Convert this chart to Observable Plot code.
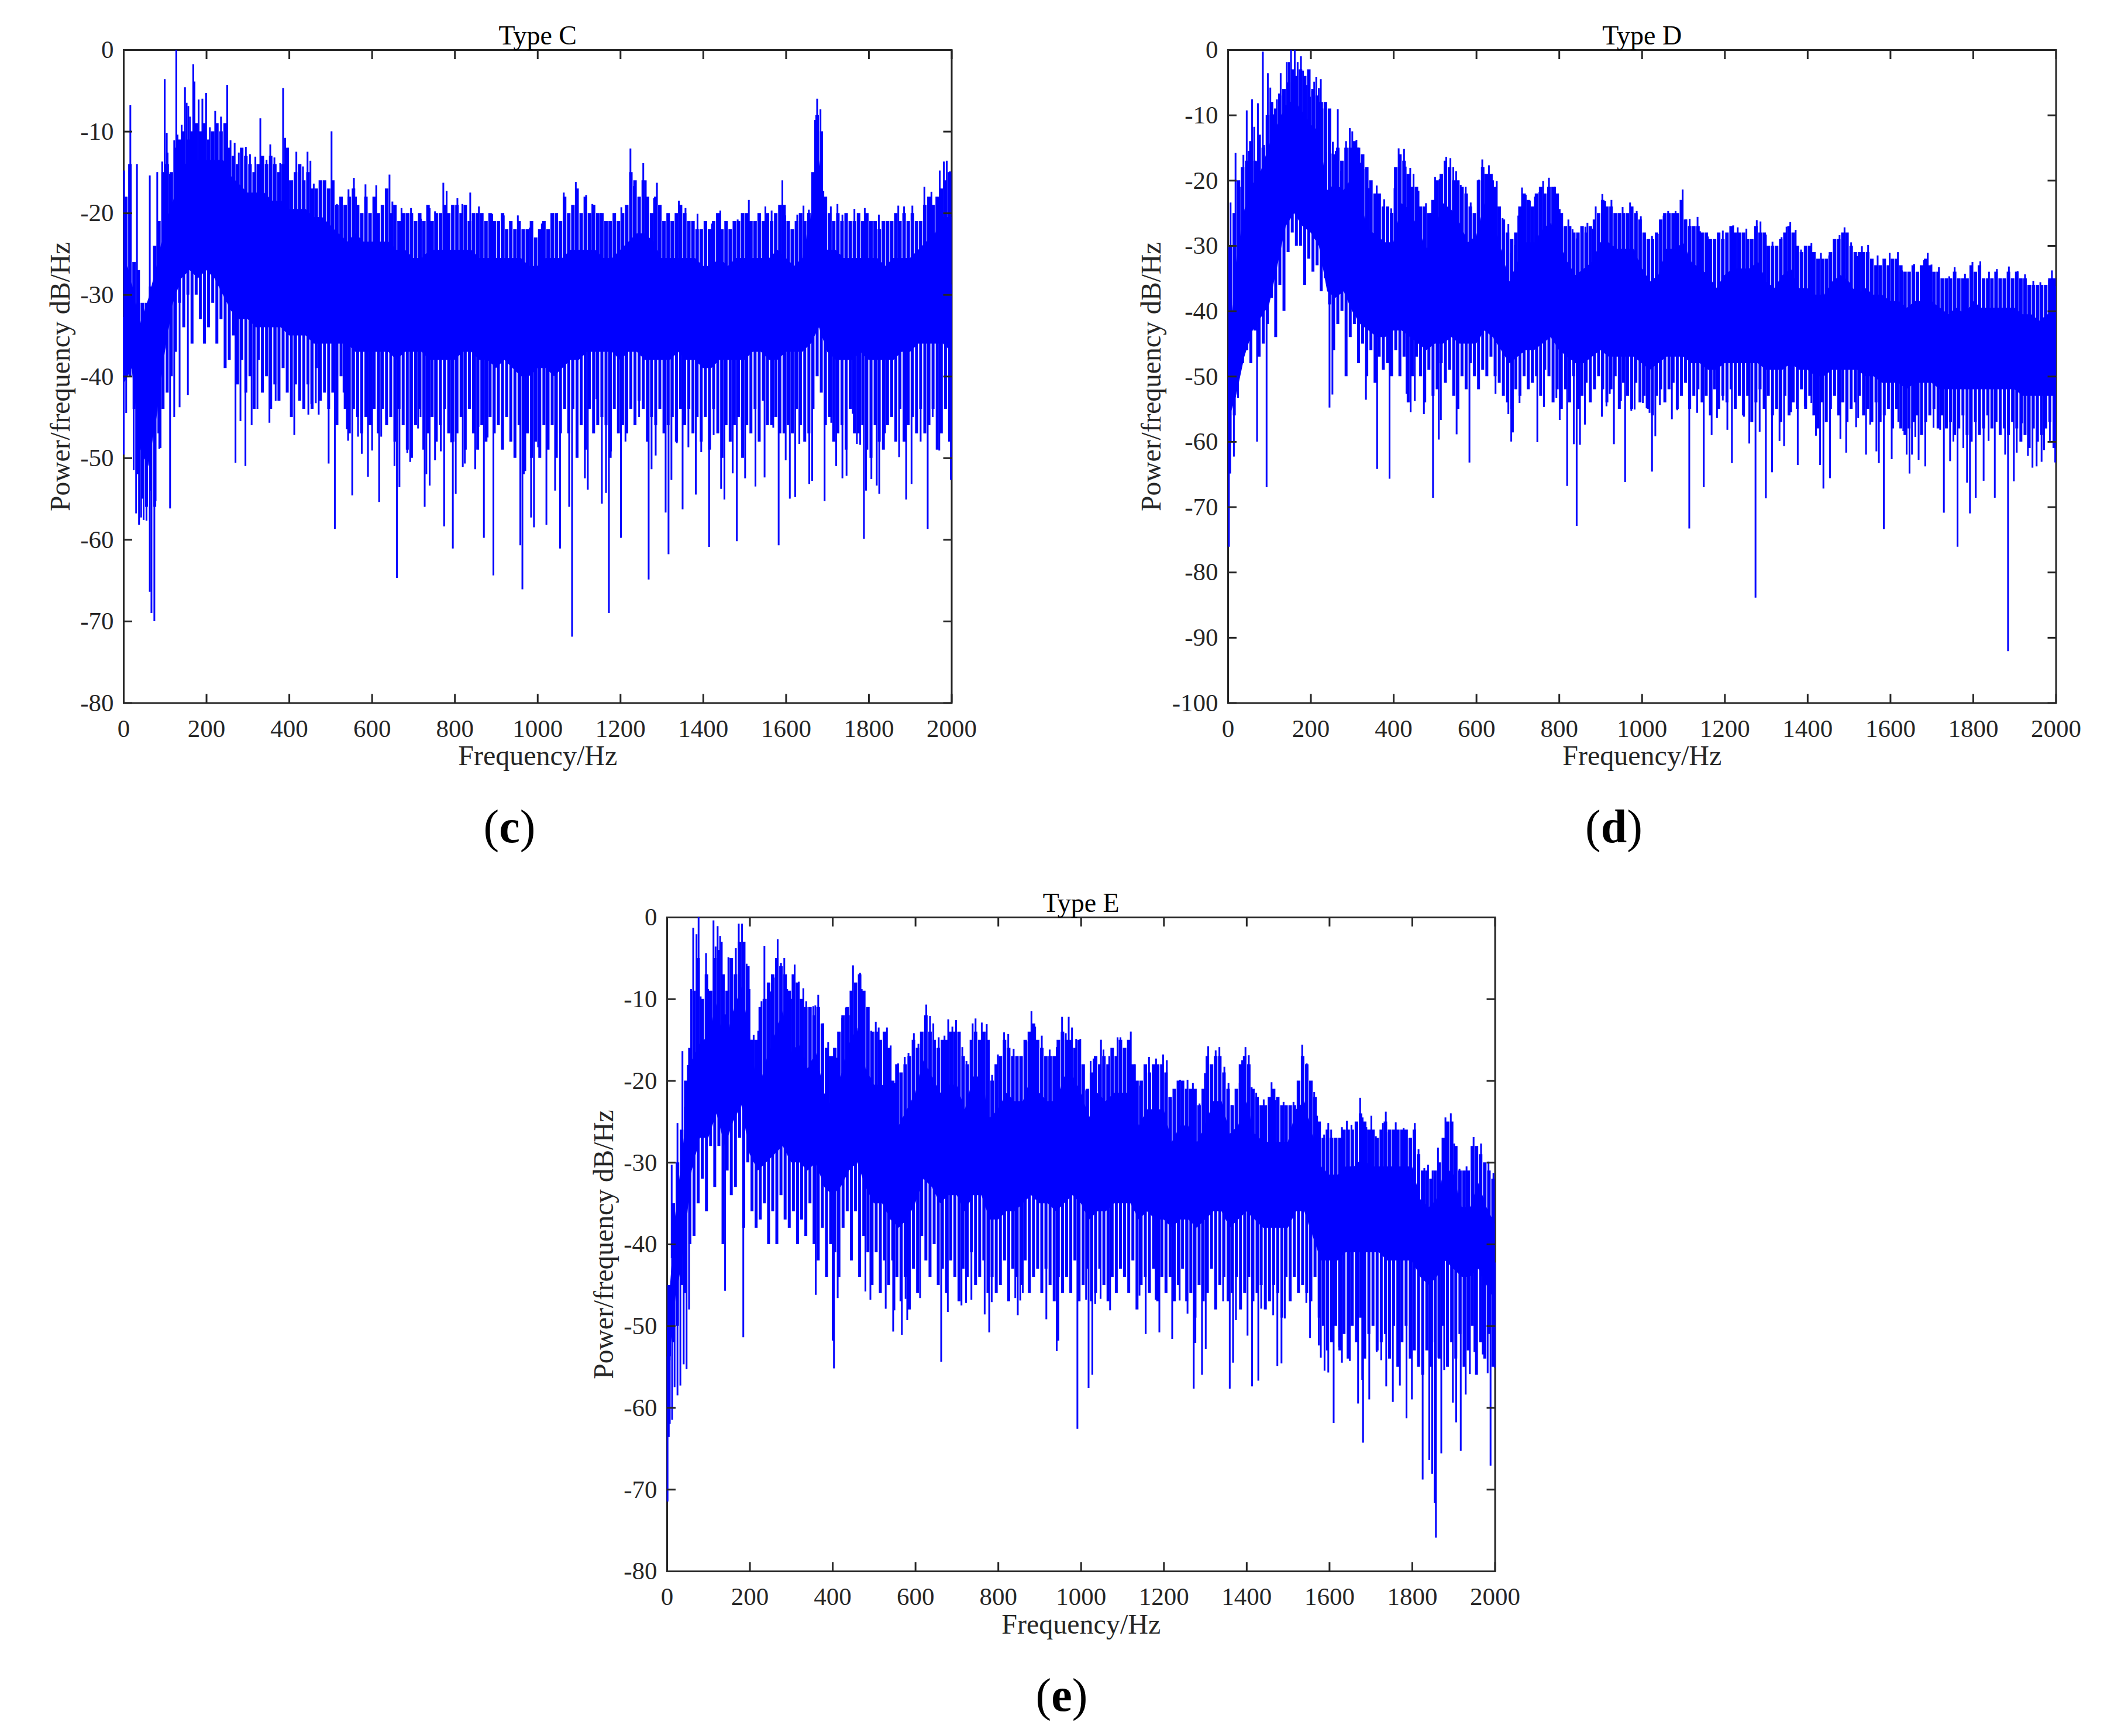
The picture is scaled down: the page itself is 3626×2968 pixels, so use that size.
<!DOCTYPE html>
<html><head><meta charset="utf-8">
<script src="https://cdn.jsdelivr.net/npm/d3@7"></script>
<script src="https://cdn.jsdelivr.net/npm/@observablehq/plot@0.6"></script>
<style>
html,body{margin:0;padding:0;background:#fff}
#page{position:relative;width:3626px;height:2968px;overflow:hidden;background:#fff}
#page svg{position:absolute}
.cap{position:absolute;width:300px;text-align:center;font:80px/1 "Liberation Serif",serif;color:#000}
</style></head><body><div id="page"></div>
<script>
const xTicks=[0,200,400,600,800,1000,1200,1400,1600,1800,2000];
const yTicks80=[0,-10,-20,-30,-40,-50,-60,-70,-80];
const yTicks100=[0,-10,-20,-30,-40,-50,-60,-70,-80,-90,-100];
const coreFreq=d3.range(0,2001,20);
const combFreq=d3.range(5,2000,10);

const cTop=[-22,-26,-31,-28,-24,-19,-16,-12,-11,-11,-11,-11,-11,-13,-14,-15,-15,-15,-16,-16,-17,-17,-17,-18,-18,-19,-20,-21,-20,-21,-21,-21,-21,-22,-22,-23,-23,-22,-22,-22,-22,-22,-22,-23,-23,-23,-23,-23,-23,-24,-24,-23,-23,-23,-22,-22,-22,-22,-23,-23,-22,-21,-20,-20,-21,-23,-23,-23,-23,-23,-24,-24,-23,-24,-23,-23,-23,-23,-23,-22,-23,-24,-23,-18,-11,-22,-22,-23,-23,-23,-23,-23,-24,-23,-23,-23,-22,-21,-20,-18,-18];
const cBot=[-44,-42,-52,-54,-48,-40,-34,-31,-30,-31,-30,-31,-33,-35,-36,-36,-37,-37,-37,-37,-38,-38,-38,-39,-39,-39,-39,-39,-40,-40,-40,-40,-40,-41,-40,-40,-40,-41,-41,-41,-41,-40,-40,-41,-41,-42,-41,-42,-43,-43,-42,-42,-43,-42,-41,-41,-40,-40,-40,-40,-41,-40,-40,-41,-41,-41,-41,-40,-41,-41,-42,-42,-41,-41,-41,-41,-40,-40,-41,-41,-40,-40,-40,-39,-37,-40,-41,-41,-41,-40,-41,-41,-41,-41,-40,-40,-39,-39,-39,-39,-40];
const cCombTop=[-18,-14,-26,-27,-31,-31,-29,-24,-21,-15,
-14,-15,-12,-11,-10,-11,-10,-9,-10,-9,
-11,-10,-9,-10,-9,-12,-13,-14,-12,-13,
-14,-15,-14,-13,-14,-13,-14,-15,-14,-12,
-16,-15,-14,-16,-15,-17,-17,-16,-16,-17,
-16,-19,-18,-19,-18,-17,-19,-20,-18,-20,
-18,-20,-19,-17,-20,-19,-21,-20,-20,-20,
-21,-20,-21,-19,-21,-20,-20,-19,-20,-19,
-19,-20,-19,-21,-20,-20,-20,-21,-20,-21,
-21,-20,-22,-21,-22,-21,-22,-22,-21,-23,
-22,-21,-22,-20,-20,-21,-18,-20,-19,-17,
-20,-18,-20,-19,-20,-20,-21,-21,-20,-21,
-20,-19,-15,-16,-18,-16,-18,-20,-18,-19,
-21,-20,-21,-20,-19,-20,-21,-21,-22,-22,
-21,-22,-21,-20,-22,-21,-22,-21,-21,-20,
-20,-21,-21,-20,-21,-20,-21,-20,-19,-19,
-21,-22,-21,-20,-21,-20,-15,-8,-10,-18,
-20,-21,-20,-21,-20,-21,-21,-20,-21,-20,
-21,-21,-22,-21,-21,-21,-20,-21,-20,-21,
-20,-21,-21,-19,-18,-19,-18,-17,-16,-15];
const cCombBot=[-36,-40,-44,-52,-55,-56,-54,-56,-47,-44,
-42,-40,-37,-31,-34,-30,-36,-30,-33,-36,
-34,-31,-36,-33,-39,-38,-35,-41,-38,-42,
-40,-44,-38,-42,-40,-44,-41,-43,-39,-42,
-45,-41,-43,-44,-41,-44,-39,-43,-42,-44,
-42,-46,-40,-44,-47,-44,-45,-47,-45,-46,
-44,-47,-44,-46,-45,-48,-44,-46,-49,-50,
-46,-44,-49,-47,-45,-48,-46,-44,-47,-48,
-47,-45,-49,-44,-47,-49,-46,-48,-45,-47,
-46,-49,-45,-48,-50,-46,-52,-47,-50,-48,
-50,-46,-49,-46,-50,-47,-44,-47,-44,-50,
-46,-49,-44,-47,-46,-45,-46,-50,-44,-47,
-46,-47,-44,-46,-43,-44,-48,-45,-46,-44,
-47,-46,-45,-48,-44,-46,-44,-47,-45,-48,
-45,-49,-44,-47,-50,-46,-48,-46,-45,-50,
-46,-47,-44,-48,-43,-46,-46,-45,-47,-47,
-46,-47,-44,-46,-48,-47,-44,-40,-42,-46,
-45,-48,-47,-46,-49,-44,-47,-47,-46,-49,
-50,-46,-48,-49,-46,-45,-48,-44,-48,-46,
-45,-47,-44,-47,-46,-44,-49,-47,-44,-48];
const cUp=[[1,-14.8],[16,-6.8],[32,-14],[63,-15.4],[81,-15],[93,-13.7],[99,-3.6],[104,-10.2],[106,-12.6],[111,-15.2],[122,-11.1],[127,0],[130,-10.4],[140,-9.2],[148,-4.6],[152,-6.5],[156,-6.9],[160,-8.2],[168,-1.8],[171,-3.9],[181,-6.1],[190,-6],[199,-5.3],[208,-9.5],[221,-7.5],[235,-8.2],[250,-4.3],[258,-11.1],[268,-11.4],[278,-12.6],[295,-11.9],[305,-12.8],[318,-13.1],[330,-8.4],[345,-13.5],[354,-11.6],[364,-13.2],[378,-13.9],[385,-4.7],[390,-10.8],[399,-16],[417,-12.5],[433,-14.3],[444,-12.5],[451,-13.6],[459,-16.4],[474,-16.1],[502,-10],[515,-18.9],[526,-18.4],[543,-17.1],[556,-15.7],[561,-18],[584,-16.5],[610,-16.6],[642,-15.3],[649,-18.6],[671,-19.4],[694,-19.4],[718,-20.7],[739,-19.4],[752,-19.8],[772,-16.3],[780,-17.3],[806,-18.2],[818,-18.9],[837,-17.5],[858,-19.2],[890,-20.1],[918,-20.3],[952,-20.3],[981,-21.8],[1010,-21.3],[1035,-20.2],[1063,-17.5],[1092,-16.2],[1117,-17.8],[1132,-18.9],[1152,-20],[1176,-21],[1202,-19.3],[1224,-12.1],[1232,-16.7],[1255,-13.9],[1261,-16],[1281,-18.2],[1288,-16.3],[1341,-18.5],[1357,-19.4],[1386,-20.1],[1421,-21.3],[1441,-19.7],[1483,-20.8],[1510,-18.4],[1550,-19.2],[1565,-19.7],[1591,-16],[1598,-20.3],[1627,-20.2],[1642,-19.1],[1655,-19.6],[1670,-8.6],[1675,-6],[1683,-7.3],[1690,-17.3],[1708,-19.2],[1724,-18.9],[1736,-20.2],[1765,-19.5],[1790,-19.4],[1824,-20.2],[1871,-19.1],[1885,-19.2],[1905,-19.1],[1934,-16.8],[1951,-17.4],[1971,-14.8],[1981,-13.7],[1988,-13.6],[1996,-14.9]];
const cDown=[[0,-49.6],[6,-44.5],[24,-51.5],[30,-56.8],[37,-58.2],[42,-57.3],[48,-57.6],[55,-57.7],[63,-66.4],[67,-69],[74,-70],[77,-55.3],[86,-48.9],[89,-48.8],[112,-56.2],[122,-45],[135,-43.8],[155,-42.3],[270,-50.6],[282,-45.5],[294,-51],[309,-46],[323,-44],[352,-45.7],[367,-43],[412,-47.2],[446,-44.7],[453,-43.4],[464,-43.3],[471,-44.7],[495,-50.7],[510,-58.7],[531,-42],[539,-46.5],[542,-47.9],[552,-54.6],[566,-47.4],[575,-49.5],[590,-52.3],[600,-49.1],[617,-55.4],[622,-47.4],[634,-45.3],[654,-51],[660,-64.7],[666,-53.6],[685,-49.4],[692,-50.5],[711,-46.4],[717,-45],[727,-56],[731,-52],[739,-53.4],[752,-50.3],[766,-49.2],[774,-58.4],[791,-48.1],[795,-61.1],[802,-54.4],[819,-51.1],[824,-50.7],[849,-51.4],[857,-46.2],[870,-59.8],[879,-47.5],[893,-64.4],[914,-48],[945,-48.8],[958,-60.7],[963,-66.1],[970,-51.6],[984,-57.3],[991,-58.5],[1001,-48.7],[1021,-58.2],[1042,-54],[1054,-61.1],[1076,-56],[1083,-71.9],[1114,-52.5],[1121,-53.9],[1142,-42.8],[1155,-55.6],[1165,-54.3],[1172,-69],[1177,-49.2],[1201,-59.8],[1212,-48],[1245,-45],[1268,-64.9],[1275,-51.4],[1285,-49.7],[1309,-56.7],[1316,-61.8],[1323,-52.7],[1336,-48.2],[1350,-56.3],[1364,-48.7],[1382,-54.5],[1395,-49.3],[1414,-60.9],[1425,-47.2],[1443,-53.8],[1451,-55.1],[1471,-51.9],[1481,-60.2],[1493,-46.6],[1501,-52.5],[1526,-53.5],[1548,-52.4],[1569,-46.3],[1582,-60.7],[1599,-50.3],[1609,-55],[1622,-54.8],[1632,-48.3],[1656,-53.2],[1663,-52.8],[1693,-55.3],[1709,-45.7],[1721,-51],[1736,-52.5],[1746,-52.2],[1761,-44.6],[1771,-48.3],[1779,-48.4],[1788,-59.9],[1793,-54],[1806,-52.6],[1819,-53.4],[1825,-54.4],[1839,-47],[1873,-49.9],[1890,-55.1],[1903,-53.2],[1925,-48],[1942,-58.7],[1954,-45],[1970,-49.1],[1998,-52.7]];

const dTop=[-45,-30,-22,-18,-16,-12,-9,-6,-5,-7,-9,-10,-19,-18,-19,-17,-21,-25,-26,-27,-27,-21,-22,-25,-28,-25,-21,-22,-24,-27,-26,-21,-23,-28,-33,-30,-27,-27,-25,-24,-27,-30,-32,-31,-30,-27,-27,-28,-28,-28,-31,-33,-32,-28,-28,-27,-30,-31,-32,-34,-32,-31,-31,-31,-30,-33,-34,-32,-31,-34,-34,-35,-35,-33,-32,-33,-35,-34,-35,-35,-36,-36,-37,-36,-36,-36,-37,-38,-37,-38,-36,-37,-37,-37,-37,-37,-38,-38,-39,-38,-38];
const dBot=[-60,-56,-50,-46,-44,-42,-36,-30,-28,-30,-31,-33,-40,-41,-40,-43,-45,-46,-47,-47,-46,-46,-47,-48,-49,-48,-48,-47,-48,-48,-48,-46,-47,-49,-51,-50,-49,-49,-48,-47,-49,-50,-51,-51,-50,-49,-50,-50,-50,-50,-51,-52,-51,-50,-50,-50,-51,-51,-52,-52,-51,-51,-51,-51,-51,-52,-52,-52,-51,-52,-52,-53,-53,-52,-52,-52,-52,-53,-53,-54,-54,-54,-55,-54,-54,-54,-55,-55,-55,-55,-55,-55,-55,-55,-55,-55,-56,-56,-56,-56,-56];
const dCombTop=[-30,-25,-20,-18,-17,-14,-17,-13,-15,-10,
-8,-9,-7,-6,-5,-3,-4,-3,-4,-3,
-6,-7,-8,-8,-9,-16,-15,-17,-15,-15,
-14,-15,-16,-18,-20,-22,-22,-24,-24,-25,
-18,-16,-17,-19,-21,-21,-24,-24,-25,-23,
-20,-19,-17,-18,-20,-20,-21,-22,-24,-25,
-20,-18,-19,-19,-21,-24,-26,-28,-29,-28,
-24,-22,-23,-24,-22,-21,-22,-21,-21,-22,
-25,-27,-27,-28,-28,-27,-28,-27,-26,-25,
-23,-24,-24,-25,-25,-25,-25,-24,-25,-26,
-28,-29,-29,-28,-26,-25,-25,-25,-25,-23,
-26,-27,-27,-27,-28,-28,-29,-29,-28,-29,
-28,-27,-28,-28,-28,-29,-29,-27,-28,-28,
-30,-30,-30,-29,-28,-27,-28,-30,-31,-30,
-30,-31,-32,-32,-32,-31,-29,-29,-28,-28,
-30,-31,-31,-31,-31,-32,-33,-33,-32,-33,
-32,-32,-33,-34,-34,-33,-34,-33,-32,-33,
-34,-34,-35,-35,-35,-34,-35,-35,-35,-33,
-34,-33,-35,-35,-35,-34,-35,-35,-34,-35,
-34,-35,-35,-36,-36,-36,-36,-36,-35,-35];
const dCombBot=[-60,-56,-50,-48,-46,-48,-43,-47,-45,-42,
-38,-44,-36,-40,-31,-28,-30,-30,-36,-32,
-34,-33,-37,-35,-39,-46,-42,-40,-50,-44,
-42,-48,-45,-50,-46,-51,-47,-49,-48,-50,
-46,-50,-47,-54,-50,-47,-50,-54,-49,-53,
-52,-48,-51,-49,-53,-55,-50,-52,-48,-50,
-52,-49,-50,-47,-50,-51,-53,-54,-55,-52,
-53,-50,-52,-51,-50,-53,-49,-50,-54,-52,
-55,-52,-54,-50,-55,-53,-51,-54,-52,-50,
-52,-54,-52,-50,-55,-51,-53,-55,-51,-54,
-53,-55,-56,-53,-52,-54,-52,-51,-55,-53,
-51,-55,-53,-52,-54,-53,-56,-52,-55,-53,
-54,-52,-55,-53,-56,-53,-57,-54,-52,-55,
-53,-56,-55,-57,-53,-56,-54,-55,-52,-55,
-53,-56,-58,-54,-57,-55,-53,-56,-54,-57,
-55,-54,-53,-56,-55,-57,-54,-57,-56,-55,
-58,-55,-58,-59,-58,-57,-56,-59,-57,-56,
-55,-58,-56,-58,-57,-59,-58,-56,-59,-60,
-57,-59,-58,-56,-58,-57,-59,-58,-59,-57,
-58,-60,-59,-61,-58,-60,-59,-58,-57,-61];
const dUp=[[6,-23.4],[18,-15.8],[28,-21],[37,-16.1],[45,-9.3],[50,-15.5],[58,-7.6],[63,-11.8],[68,-17.1],[72,-8.2],[76,-14.1],[84,-0.3],[87,-14.6],[91,-16.8],[96,-3.6],[102,-5.8],[109,-9.9],[118,-7.6],[123,-6.7],[127,-3.6],[135,-6],[142,-1.9],[147,-1.9],[152,0],[161,0],[168,-1.9],[176,-1],[181,-3.2],[189,-5.4],[198,-7.2],[203,-6.3],[208,-4.9],[213,-4.2],[219,-5.9],[224,-4.5],[228,-9],[237,-15.7],[248,-15.9],[253,-14.1],[260,-15.5],[265,-9.1],[273,-18.6],[285,-14],[294,-12],[300,-12.5],[310,-13.8],[314,-15],[320,-17.3],[327,-18.3],[339,-21.2],[346,-23.5],[359,-20.8],[364,-24.1],[377,-22.9],[384,-24.9],[394,-24.3],[402,-21.2],[412,-15.1],[425,-15.2],[429,-17.9],[440,-18.1],[448,-19],[460,-21.6],[478,-23.5],[489,-25],[500,-19.5],[511,-19.8],[527,-16.4],[537,-16.6],[544,-18],[551,-18.6],[562,-20.7],[574,-21],[586,-23.4],[595,-25.6],[606,-19.9],[614,-16.8],[621,-19],[630,-17.7],[640,-20],[649,-20.1],[663,-25.8],[677,-26.7],[683,-31.1],[693,-29.9],[701,-25.4],[710,-21.1],[719,-22.2],[729,-23.1],[741,-22.5],[752,-21.8],[761,-20.1],[775,-19.6],[790,-21],[801,-24.4],[813,-27.2],[822,-26],[832,-27.5],[842,-28.9],[863,-27.1],[868,-26.5],[881,-27.4],[888,-24],[904,-22.1],[911,-23.2],[926,-23],[953,-24.1],[971,-23.4],[987,-24.7],[997,-25.5],[1007,-28.3],[1024,-28.5],[1038,-28.2],[1052,-25.4],[1063,-24.7],[1081,-24.7],[1098,-21.4],[1106,-26],[1115,-25.9],[1134,-25.6],[1140,-27.8],[1159,-28.6],[1175,-29.6],[1195,-27.7],[1220,-26.9],[1231,-27.2],[1252,-27.4],[1277,-26.1],[1286,-26.3],[1299,-28.3],[1315,-29.4],[1337,-28.7],[1349,-27.1],[1358,-26.4],[1371,-27.6],[1384,-30.6],[1409,-29.6],[1432,-31.1],[1452,-31.5],[1466,-29.6],[1477,-28.4],[1489,-27.2],[1505,-29.5],[1520,-31.6],[1531,-30.1],[1546,-29.9],[1569,-31.5],[1598,-31.1],[1618,-31],[1628,-33.8],[1657,-32.8],[1681,-32.2],[1690,-31.1],[1699,-32.9],[1717,-33.3],[1742,-34.7],[1755,-33.3],[1780,-34.3],[1798,-32.5],[1817,-32.4],[1838,-34],[1857,-33.6],[1886,-33.2],[1907,-33.9],[1925,-34.4],[1945,-35.4],[1962,-35.6],[1983,-35.3],[1990,-33.8],[1998,-36.2]];
const dDown=[[2,-76.1],[5,-64.9],[14,-62.3],[24,-53.3],[70,-60],[93,-67],[245,-54.8],[252,-52.8],[333,-53.6],[360,-64.2],[390,-65.7],[431,-52.7],[441,-55.5],[451,-53.8],[473,-55.8],[495,-68.6],[509,-59.7],[514,-56.7],[552,-58.9],[583,-63.2],[646,-52.7],[677,-55.8],[684,-60],[688,-58.6],[704,-54.1],[747,-60.1],[763,-54.7],[793,-53.3],[801,-56.7],[819,-66.8],[835,-60.4],[842,-72.9],[850,-60.5],[862,-57.4],[903,-56.2],[914,-54.6],[922,-52.7],[932,-60.4],[949,-53.8],[959,-66.2],[974,-55.3],[982,-55.1],[1002,-54.1],[1011,-54.9],[1018,-55.6],[1024,-64.6],[1032,-59.2],[1043,-54.4],[1072,-56.6],[1085,-55.2],[1114,-73.3],[1133,-55.6],[1149,-67],[1168,-59],[1181,-56.4],[1195,-53.7],[1206,-58.2],[1217,-63.3],[1246,-56.2],[1259,-60.3],[1274,-83.9],[1284,-58.5],[1299,-68.7],[1314,-64.7],[1332,-59.9],[1343,-60.7],[1360,-55.5],[1376,-63.6],[1393,-54.6],[1409,-54.1],[1420,-59.1],[1430,-63.6],[1438,-67.2],[1454,-65.6],[1479,-59.6],[1493,-61.7],[1517,-57.8],[1522,-56.4],[1541,-62],[1551,-57.4],[1566,-61.5],[1572,-63.3],[1584,-73.4],[1603,-62.7],[1619,-57],[1631,-58.4],[1639,-62],[1646,-64.9],[1652,-62],[1660,-59.3],[1668,-62.8],[1684,-63.8],[1704,-57.9],[1720,-58.2],[1729,-70.9],[1744,-63],[1752,-60],[1762,-76.1],[1776,-61],[1785,-66.3],[1792,-71],[1806,-68.6],[1825,-66],[1837,-59.9],[1852,-68.6],[1877,-62],[1884,-92.1],[1898,-66.1],[1905,-61.7],[1918,-57.2],[1932,-62.2],[1943,-64],[1953,-63.8],[1965,-63.1],[1971,-61.3],[1985,-59.9],[1998,-63.2]];

const eTop=[-48,-34,-25,-15,-13,-12,-8,-13,-9,-6,-12,-19,-15,-12,-9,-14,-13,-16,-14,-19,-21,-17,-13,-11,-16,-18,-18,-19,-23,-21,-19,-15,-17,-19,-18,-18,-21,-17,-17,-22,-21,-19,-20,-20,-17,-19,-20,-20,-17,-17,-19,-22,-19,-20,-19,-19,-19,-23,-21,-21,-21,-25,-23,-23,-25,-23,-20,-20,-24,-23,-20,-24,-25,-25,-25,-25,-21,-20,-24,-28,-29,-29,-28,-28,-27,-28,-28,-28,-28,-28,-28,-32,-33,-32,-28,-29,-33,-33,-30,-33,-35];
const eBot=[-60,-50,-44,-34,-30,-30,-27,-31,-28,-26,-32,-34,-33,-32,-31,-33,-33,-34,-33,-36,-37,-36,-34,-33,-36,-38,-38,-40,-41,-40,-38,-35,-36,-38,-37,-37,-39,-37,-37,-40,-40,-39,-39,-38,-37,-38,-38,-39,-38,-37,-38,-40,-39,-39,-38,-38,-38,-40,-39,-40,-40,-41,-40,-40,-41,-40,-39,-39,-41,-40,-39,-40,-41,-41,-41,-41,-39,-39,-42,-45,-45,-45,-44,-44,-44,-44,-44,-45,-45,-45,-45,-47,-48,-47,-45,-46,-47,-47,-46,-48,-50];
const eCombTop=[-45,-35,-30,-26,-20,-16,-9,-5,-10,-7,
-9,-5,-4,-7,-9,-5,-7,-3,-3,-6,
-15,-15,-11,-10,-8,-7,-5,-6,-7,-9,
-7,-8,-10,-11,-11,-12,-11,-13,-16,-17,
-16,-14,-12,-11,-9,-8,-7,-9,-11,-14,
-14,-15,-14,-16,-20,-18,-19,-18,-17,-15,
-16,-14,-12,-14,-15,-16,-15,-15,-14,-14,
-14,-17,-18,-15,-14,-15,-14,-15,-20,-18,
-17,-15,-16,-17,-17,-17,-15,-14,-13,-15,
-16,-17,-17,-17,-15,-14,-15,-15,-16,-15,
-18,-21,-19,-17,-18,-17,-18,-16,-17,-15,
-16,-15,-18,-20,-20,-18,-19,-18,-18,-18,
-19,-22,-21,-20,-20,-21,-21,-21,-23,-21,
-17,-18,-17,-17,-19,-21,-23,-21,-18,-17,
-18,-21,-22,-23,-23,-22,-21,-22,-23,-23,
-23,-23,-20,-17,-18,-20,-22,-25,-27,-26,
-27,-27,-27,-26,-26,-26,-25,-24,-25,-26,
-26,-27,-26,-25,-26,-26,-26,-26,-26,-27,
-26,-29,-31,-31,-32,-31,-30,-27,-25,-25,
-28,-31,-31,-31,-28,-28,-29,-30,-31,-32];
const eCombBot=[-62,-52,-50,-45,-46,-40,-39,-35,-32,-36,
-28,-33,-28,-40,-31,-34,-33,-27,-38,-30,
-36,-38,-37,-35,-40,-36,-40,-34,-37,-38,
-36,-40,-37,-39,-35,-40,-42,-38,-44,-40,
-41,-44,-38,-36,-42,-36,-44,-39,-41,-45,
-41,-46,-42,-45,-42,-44,-47,-44,-48,-43,
-46,-39,-42,-44,-40,-45,-43,-46,-42,-44,
-47,-43,-44,-41,-45,-44,-42,-46,-44,-46,
-45,-42,-47,-43,-44,-45,-42,-46,-44,-43,
-46,-43,-45,-47,-44,-46,-44,-46,-42,-47,
-45,-43,-47,-46,-43,-45,-47,-44,-46,-43,
-44,-46,-42,-48,-45,-44,-46,-43,-47,-44,
-46,-44,-47,-45,-43,-47,-46,-49,-45,-47,
-46,-43,-48,-45,-44,-47,-46,-44,-48,-46,
-44,-47,-46,-45,-48,-47,-45,-46,-49,-44,
-47,-44,-46,-45,-46,-47,-44,-49,-50,-53,
-52,-50,-53,-51,-54,-50,-52,-49,-54,-51,
-50,-53,-52,-51,-54,-50,-55,-52,-50,-54,
-53,-55,-56,-53,-55,-52,-54,-50,-55,-52,
-54,-51,-55,-53,-50,-56,-52,-54,-51,-55];
const eUp=[[11,-30.3],[25,-25.2],[37,-16.4],[43,-23.2],[50,-18.1],[58,-8.8],[63,-1.3],[71,-2.1],[76,0],[81,-9.7],[94,-4.4],[99,-8.8],[112,-0.4],[117,-3.6],[122,-1.1],[128,-2.3],[132,-3],[140,-11.9],[148,-4.9],[156,-5],[166,-3.8],[173,-0.8],[176,-3.3],[181,-0.8],[192,-5.7],[199,-8.8],[209,-14.4],[220,-13.9],[228,-10.3],[235,-3.5],[242,-10],[251,-9.1],[258,-7.4],[267,-2.7],[275,-5.6],[283,-5],[290,-8.8],[301,-10],[308,-5.8],[318,-7.9],[329,-8.7],[336,-10.3],[346,-13.5],[353,-10.9],[358,-10.8],[365,-9.5],[377,-13],[389,-15.3],[400,-17],[410,-17.2],[423,-12.3],[432,-11.1],[439,-12],[449,-5.9],[466,-6.8],[470,-8.8],[483,-11.1],[493,-13.9],[504,-12.8],[511,-13.5],[531,-13.5],[540,-15.7],[551,-20.3],[558,-17.9],[574,-17.1],[583,-16.6],[596,-14.2],[607,-15.5],[626,-10.7],[635,-12.1],[643,-13],[656,-14.7],[670,-14.5],[679,-12.5],[689,-13.4],[698,-12.6],[713,-15.9],[723,-17.6],[738,-13],[745,-12.4],[760,-12.9],[772,-13.1],[785,-19.3],[799,-16.8],[814,-14.1],[824,-14.3],[837,-16.1],[868,-15.2],[880,-11.5],[889,-13.4],[905,-14.5],[924,-16.2],[941,-15.9],[954,-12.2],[963,-14.2],[970,-12.2],[978,-13.5],[988,-14.9],[998,-14.9],[1012,-21.2],[1023,-17.6],[1030,-17.3],[1048,-15],[1054,-16.2],[1068,-17],[1088,-14.7],[1095,-14.7],[1104,-16.1],[1120,-14],[1130,-18],[1142,-20.6],[1155,-19.5],[1164,-17.1],[1181,-17.3],[1198,-16.8],[1207,-17.5],[1217,-22.4],[1239,-19.9],[1257,-19.9],[1270,-20.3],[1286,-22.8],[1299,-19.1],[1307,-15.8],[1325,-16.3],[1334,-15.9],[1346,-18.3],[1356,-20.3],[1364,-23],[1383,-20.3],[1389,-17.5],[1397,-15.9],[1405,-16.9],[1412,-20.8],[1423,-21.5],[1441,-22.3],[1460,-20.2],[1469,-22.4],[1489,-22.6],[1513,-22.6],[1534,-15.6],[1545,-17.9],[1563,-21.4],[1570,-24.3],[1587,-26.6],[1597,-25.2],[1604,-26],[1630,-25.7],[1642,-24.9],[1653,-25.4],[1674,-22.1],[1680,-24.5],[1689,-25.7],[1701,-24.3],[1712,-26.8],[1729,-25.2],[1736,-23.8],[1743,-26.3],[1760,-25.1],[1779,-25.8],[1806,-25.2],[1815,-28.4],[1829,-30.7],[1838,-30.3],[1849,-31],[1862,-28.2],[1880,-24.5],[1893,-24],[1901,-27.7],[1914,-30.8],[1931,-30.5],[1948,-26.9],[1966,-27.7],[1974,-30.3],[1984,-29.9],[1996,-31.3]];
const eDown=[[1,-71.5],[4,-63.6],[6,-54.2],[12,-61.5],[18,-57.5],[25,-58.5],[32,-57.3],[40,-54.7],[47,-55.3],[53,-48],[140,-45.7],[184,-51.4],[359,-46.2],[400,-51.8],[403,-55.2],[412,-46.6],[479,-45.8],[491,-46.8],[528,-47.9],[546,-50.7],[549,-48.1],[567,-51.1],[576,-46.7],[580,-49.3],[611,-46.6],[662,-54.4],[678,-48.3],[711,-47.5],[722,-47.2],[735,-46.8],[767,-48.6],[778,-50.8],[784,-47.1],[841,-46.6],[847,-48.7],[853,-46.9],[859,-46],[916,-49.2],[941,-53.1],[945,-51.8],[991,-62.6],[1012,-46.8],[1018,-57.6],[1027,-56],[1034,-47.3],[1047,-46.7],[1070,-48.1],[1141,-46.3],[1156,-51],[1180,-46.8],[1189,-50.8],[1220,-51.6],[1238,-46.9],[1257,-48.5],[1272,-57.7],[1276,-52.1],[1292,-56],[1301,-52.8],[1343,-47],[1359,-57.7],[1367,-54.5],[1374,-49.3],[1402,-51.2],[1413,-57.4],[1428,-56.7],[1435,-47.9],[1454,-46.4],[1464,-48.7],[1474,-54.9],[1484,-54.6],[1492,-49.1],[1504,-46.7],[1544,-47.2],[1553,-51.5],[1574,-52.4],[1579,-53.9],[1588,-55.5],[1597,-55.7],[1610,-61.9],[1623,-52.6],[1630,-54.5],[1649,-54.3],[1669,-59.5],[1679,-56.6],[1681,-64.3],[1696,-59],[1714,-53.2],[1725,-54.2],[1737,-57.4],[1753,-59.3],[1770,-57.3],[1786,-61.3],[1799,-59],[1815,-53.8],[1825,-68.8],[1841,-66.4],[1848,-68.1],[1854,-71.7],[1857,-75.9],[1863,-53.9],[1870,-65.6],[1877,-55.4],[1898,-59.4],[1906,-61.8],[1917,-65.3],[1929,-58.4],[1939,-55.9],[1950,-53.2],[1970,-53.5],[1982,-55.8],[1989,-67.1],[1999,-55.1]];

const FONT='"Liberation Serif",serif', BLUE="#0000ff", INK="#262626";
const page=document.getElementById("page");

function panel({title,top,bot,combTop,combBot,up,down,ticks,yMin,left,topPx,innerH,labelDx}){
  const marginLeft=211,marginRight=100,marginTop=85,marginBottom=130,innerW=1415.5;
  const core=coreFreq.map((f,i)=>({f,t:top[i]-2.5,b:bot[i]+3}));
  const mid=f=>{const c=core[Math.min(100,Math.round(f/20))];return (c.t+c.b)/2;};
  const comb=combFreq.map((f,i)=>({f,t:combTop[i],b:combBot[i],m:mid(f)}));
  const p=Plot.plot({
    width:marginLeft+innerW+marginRight,height:marginTop+innerH+marginBottom,
    marginLeft,marginRight,marginTop,marginBottom,
    style:{fontFamily:FONT,fontSize:"43px",background:"transparent",overflow:"visible"},
    x:{domain:[0,2000],label:null},y:{domain:[yMin,0],label:null},
    marks:[
      Plot.frame({stroke:INK,strokeWidth:3}),
      Plot.areaY(core,{x:"f",y1:"b",y2:"t",fill:BLUE}),
      Plot.ruleX(comb,{x:"f",y1:"t",y2:"m",stroke:BLUE,strokeWidth:6}),
      Plot.ruleX(comb,{x:"f",y1:"b",y2:"m",stroke:BLUE,strokeWidth:5}),
      Plot.ruleX(up,{x:d=>d[0],y1:d=>d[1],y2:d=>mid(d[0]),stroke:BLUE,strokeWidth:3}),
      Plot.ruleX(down,{x:d=>d[0],y1:d=>d[1],y2:d=>mid(d[0]),stroke:BLUE,strokeWidth:3}),
      Plot.axisX(xTicks,{anchor:"bottom",tickSize:-15,tickPadding:42,fontSize:43,color:INK,strokeWidth:3,tickFormat:d=>String(d),label:null}),
      Plot.axisX(xTicks,{anchor:"top",tickSize:-15,tickFormat:()=>"",color:INK,strokeWidth:3,label:null}),
      Plot.axisY(ticks,{anchor:"left",tickSize:-15,tickPadding:32,fontSize:43,color:INK,strokeWidth:3,tickFormat:d=>String(d),label:null}),
      Plot.axisY(ticks,{anchor:"right",tickSize:-15,tickFormat:()=>"",color:INK,strokeWidth:3,label:null}),
      Plot.text([title],{frameAnchor:"top",lineAnchor:"bottom",dy:-10,fontSize:46,fill:"#000"}),
      Plot.text(["Frequency/Hz"],{frameAnchor:"bottom",lineAnchor:"bottom",dy:106,fontSize:48,fill:INK}),
      Plot.text(["Power/frequency dB/Hz"],{frameAnchor:"left",textAnchor:"middle",rotate:-90,dx:labelDx,fontSize:47.5,fill:INK})
    ]
  });
  p.style.left=left+"px";p.style.top=topPx+"px";
  page.appendChild(p);
}
function caption(letter,cx,baseline){
  const d=document.createElement("div");d.className="cap";
  d.style.left=(cx-150)+"px";d.style.top=(baseline-67)+"px";
  d.innerHTML="(<b>"+letter+"</b>)";page.appendChild(d);
}
panel({title:"Type C",top:cTop,bot:cBot,combTop:cCombTop,combBot:cCombBot,up:cUp,down:cDown,ticks:yTicks80,yMin:-80,left:0,topPx:0,innerH:1116.5,labelDx:-108});
panel({title:"Type D",top:dTop,bot:dBot,combTop:dCombTop,combBot:dCombBot,up:dUp,down:dDown,ticks:yTicks100,yMin:-100,left:1888,topPx:0,innerH:1116.5,labelDx:-131});
panel({title:"Type E",top:eTop,bot:eBot,combTop:eCombTop,combBot:eCombBot,up:eUp,down:eDown,ticks:yTicks80,yMin:-80,left:929,topPx:1483,innerH:1118,labelDx:-108});
caption("c",871,1440);caption("d",2759,1440);caption("e",1815,2925);
</script></body></html>
